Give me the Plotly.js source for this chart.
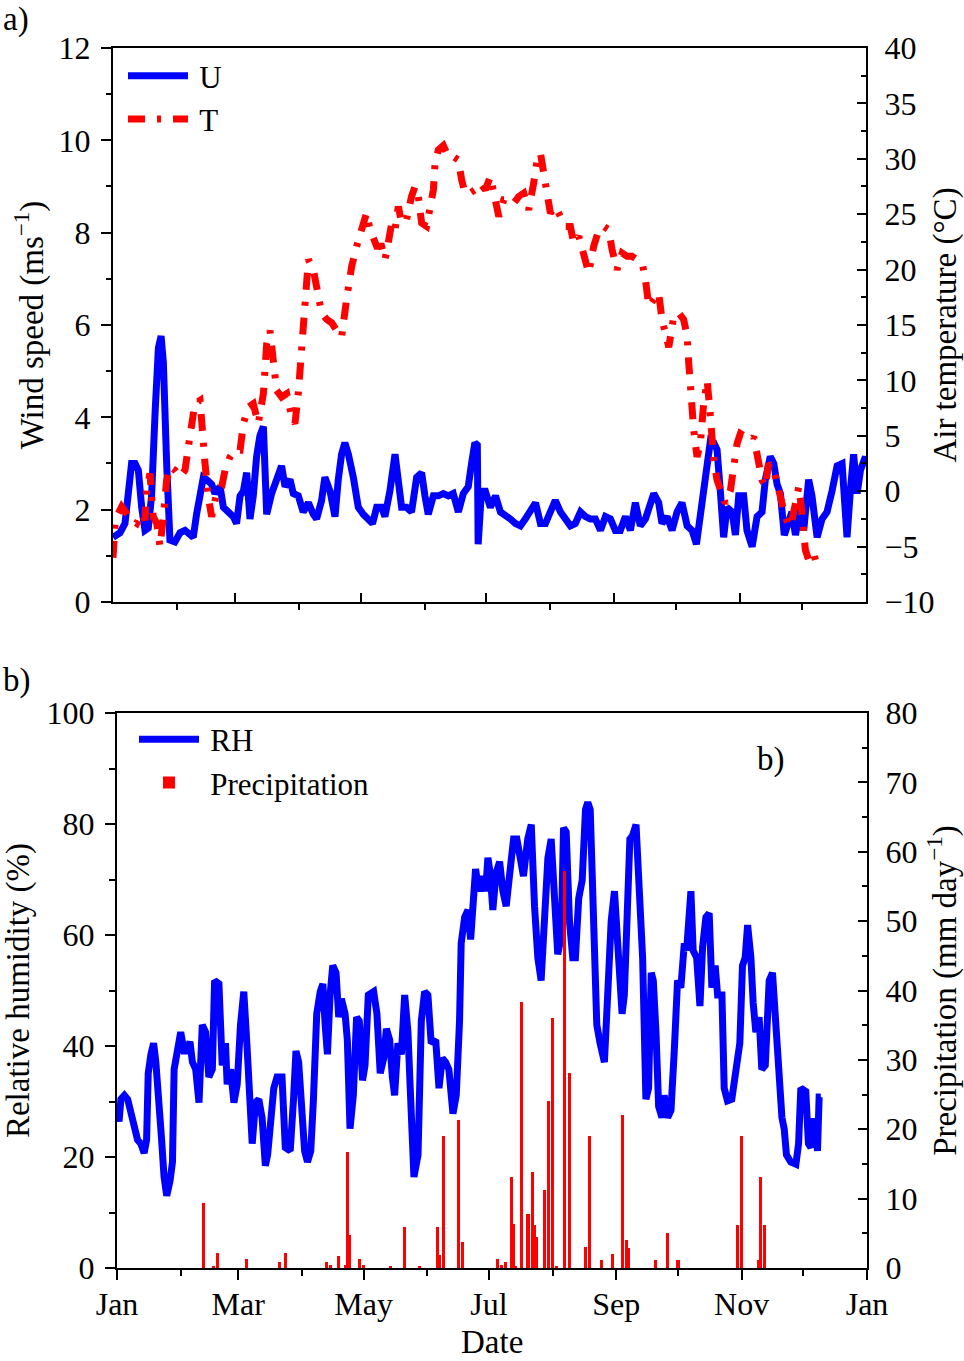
<!DOCTYPE html>
<html>
<head>
<meta charset="utf-8">
<script src="https://cdn.plot.ly/plotly-3.0.1.min.js"></script>
<style>
  html, body { margin: 0; padding: 0; background: #fff; }
  #graph { width: 964px; height: 1361px; }
</style>
</head>
<body>
<div id="graph"></div>
<script>
// day of year on the x axis, month ticks
const monthTicks = [0, 59, 120, 181, 243, 304, 365];
const monthLabels = ['Jan', 'Mar', 'May', 'Jul', 'Sep', 'Nov', 'Jan'];
const minorMonths = [31, 90, 151, 212, 273, 334];

// a) wind speed U (m/s)
const uDay = [
  0, 3.4, 5.8, 7.4, 9.0, 10.7, 12.3, 13.9, 15.5, 17.1,
  18.7, 20.4, 22.0, 23.3, 24.4, 26.0, 27.6, 30.0, 32.5, 34.9,
  37.3, 38.9, 40.5, 42.2, 43.8, 45.4, 47.8, 49.4, 51.9, 53.5,
  55.9, 58.3, 59.9, 61.6, 63.2, 64.8, 66.4, 68.0, 69.6, 71.2,
  72.9, 74.5, 76.9, 79.3, 81.7, 83.4, 85.8, 87.4, 89.8, 92.2,
  94.7, 97.1, 98.7, 101.1, 102.7, 105.2, 107.6, 109.2, 110.8, 112.4,
  114.1, 116.5, 118.9, 121.3, 123.7, 125.8, 127.8, 130.2, 131.8, 134.2,
  136.7, 138.3, 139.9, 142.3, 144.7, 147.2, 149.6, 151.2, 152.8, 155.3,
  157.7, 160.1, 162.5, 164.9, 167.4, 169.8, 172.2, 173.8, 175.4, 176.6,
  177.0, 178.6, 180.5, 182.9, 185.4, 187.8, 190.2, 192.6, 195.1, 197.5,
  199.9, 202.3, 204.8, 207.2, 209.6, 212.0, 214.4, 216.9, 219.3, 221.7,
  224.1, 226.6, 229.0, 231.4, 233.8, 236.3, 238.7, 241.1, 243.5, 245.9,
  248.4, 250.8, 253.2, 255.6, 258.1, 260.5, 262.1, 264.5, 266.1, 268.6,
  271.0, 273.4, 275.8, 278.3, 280.7, 282.8, 284.7, 286.3, 288.0, 289.6,
  291.2, 292.8, 294.4, 296.0, 297.6, 300.1, 301.7, 303.3, 305.7, 307.3,
  309.8, 312.2, 314.6, 316.2, 318.6, 320.3, 321.9, 323.5, 325.4, 327.5,
  329.1, 330.8, 333.2, 334.8, 337.2, 338.8, 341.3, 343.7, 346.1, 348.5,
  351.0, 353.4, 355.0, 355.8, 357.4, 359.0, 360.7, 362.3, 364.7, 365.0
];
const uVal = [
  1.4, 1.5, 1.7, 2.35, 3.0, 3.0, 2.85, 2.05, 1.55, 1.6,
  2.3, 4.1, 5.5, 5.76, 5.2, 3.0, 1.34, 1.3, 1.5, 1.55,
  1.45, 1.4, 1.9, 2.4, 2.7, 2.65, 2.55, 2.35, 2.5, 2.05,
  1.95, 1.85, 1.7, 2.3, 2.4, 2.8, 1.8, 2.3, 3.15, 3.6,
  3.8, 1.9, 2.35, 2.65, 2.95, 2.5, 2.65, 2.35, 2.3, 1.95,
  2.15, 1.9, 1.8, 2.2, 2.7, 2.4, 1.85, 2.65, 3.2, 3.45,
  3.2, 2.7, 2.05, 1.9, 1.8, 1.7, 2.05, 2.05, 1.85, 2.4,
  3.2, 2.7, 2.05, 2.05, 1.95, 2.7, 2.8, 2.3, 1.9, 2.3,
  2.3, 2.35, 2.3, 2.35, 1.95, 2.35, 2.5, 3.0, 3.45, 3.4,
  1.25, 2.4, 2.4, 2.05, 2.3, 1.95, 1.85, 1.8, 1.7, 1.65,
  1.8, 1.95, 2.15, 1.7, 1.7, 1.95, 2.2, 1.95, 1.8, 1.65,
  1.7, 1.95, 1.85, 1.8, 1.8, 1.55, 1.85, 1.8, 1.55, 1.55,
  1.85, 1.55, 2.15, 1.65, 1.8, 2.15, 2.35, 2.15, 1.7, 1.85,
  1.55, 1.95, 2.15, 1.65, 1.55, 1.25, 1.95, 2.4, 3.0, 3.5,
  3.45, 3.3, 2.4, 1.4, 2.05, 1.95, 1.45, 2.3, 2.3, 1.55,
  1.2, 1.85, 1.95, 2.65, 3.15, 3.0, 2.55, 2.35, 1.45, 1.7,
  1.95, 1.45, 2.05, 1.55, 2.65, 2.3, 1.4, 1.8, 1.95, 2.4,
  2.95, 3.0, 2.05, 1.4, 2.4, 3.2, 2.35, 2.85, 3.15, 3.0
];

// a) air temperature T (deg C)
const tDay = [
  0, 1.0, 2.6, 4.2, 6.6, 9.0, 11.5, 13.9, 15.5, 16.3,
  17.9, 19.5, 21.2, 22.8, 24.4, 26.0, 27.6, 30.0, 32.5, 34.9,
  36.5, 38.1, 39.7, 42.2, 43.0, 44.6, 46.2, 47.8, 50.2, 52.7,
  54.3, 56.7, 59.1, 61.6, 63.2, 65.6, 68.0, 70.4, 72.9, 74.5,
  76.1, 77.7, 79.3, 81.7, 84.2, 86.6, 88.2, 89.8, 91.4, 93.1,
  94.7, 97.1, 99.5, 101.1, 103.6, 106.0, 108.4, 110.8, 113.2, 115.7,
  118.1, 120.5, 122.9, 124.6, 126.2, 127.8, 130.2, 131.8, 133.4, 135.1,
  136.7, 138.3, 139.9, 142.3, 144.7, 146.4, 148.0, 149.6, 152.0, 153.6,
  155.3, 156.1, 157.7, 160.1, 162.5, 164.9, 167.4, 169.0, 170.6, 173.0,
  175.4, 177.9, 180.5, 182.9, 184.6, 187.0, 189.4, 191.8, 194.3, 196.7,
  199.1, 201.5, 203.9, 205.6, 207.2, 208.8, 210.4, 212.0, 214.4, 216.9,
  219.3, 221.7, 223.3, 225.8, 228.2, 230.6, 233.0, 235.5, 237.9, 240.3,
  241.9, 244.3, 246.8, 249.2, 251.6, 254.0, 256.5, 258.1, 259.7, 262.1,
  264.5, 266.1, 267.8, 269.4, 271.8, 274.2, 276.6, 278.3, 279.1, 279.9,
  281.5, 283.1, 284.7, 286.3, 288.0, 289.6, 291.2, 292.8, 294.4, 296.8,
  299.3, 300.9, 302.5, 304.1, 306.5, 309.0, 310.6, 313.0, 314.6, 316.2,
  317.8, 320.3, 322.7, 325.1, 327.5, 329.1, 330.8, 332.4, 334.0, 335.6,
  337.2, 339.7, 341.6
];
const tVal = [
  -6.0, -3.0, -2.0, -1.4, -2.0, -2.6, -2.9, -2.0, -2.6, 0.1,
  1.6, -2.3, -2.9, -5.0, -2.3, 1.0, 2.2, 1.9, 1.3, 1.9,
  4.0, 6.4, 7.9, 8.2, 5.5, 2.5, -0.5, -2.3, -0.2, 0.4,
  1.9, 3.1, 3.7, 3.7, 6.1, 7.6, 7.9, 6.1, 8.8, 13.3,
  14.5, 11.5, 9.1, 8.5, 8.8, 6.7, 6.1, 8.8, 13.3, 18.2,
  20.9, 20.0, 17.3, 16.1, 15.5, 15.2, 14.5, 13.9, 17.3, 20.3,
  22.1, 23.9, 25.1, 23.6, 23.0, 22.1, 22.1, 20.9, 22.4, 24.2,
  23.6, 25.7, 24.2, 24.5, 26.6, 27.5, 26.6, 24.2, 23.9, 26.0,
  27.2, 29.6, 30.8, 31.2, 30.2, 30.2, 29.9, 28.1, 26.9, 26.9,
  27.2, 27.8, 27.2, 28.4, 26.6, 24.8, 26.3, 26.3, 26.0, 26.6,
  26.9, 25.4, 27.8, 29.9, 30.5, 28.7, 27.2, 25.1, 25.7, 24.8,
  23.9, 23.9, 22.4, 23.0, 21.5, 19.7, 22.1, 23.6, 23.9, 23.6,
  21.8, 20.0, 21.5, 21.2, 21.2, 20.9, 20.6, 19.1, 16.7, 17.3,
  17.9, 15.5, 14.2, 13.0, 15.8, 16.1, 15.5, 14.0, 11.5, 8.5,
  5.5, 3.1, 4.3, 7.9, 10.0, 6.7, 2.8, 1.0, 0.1, -1.1,
  0.1, 2.8, 4.3, 5.2, 4.9, 4.6, 4.9, 2.5, 1.0, 0.4,
  2.5, 1.9, -0.2, -1.7, -3.2, -2.6, -1.1, 0.4, -2.0, -5.3,
  -6.2, -5.6, -7.1
];

// b) relative humidity (%)
const rhDay = [
  0, 1, 1.9, 3.6, 5.2, 6.8, 8.4, 10.0, 11.6, 13.2,
  14.4, 15.2, 16.5, 17.8, 18.9, 20.5, 21.6, 22.9, 24.2, 25.8,
  27.0, 27.8, 29.4, 31.0, 32.6, 34.2, 35.5, 36.7, 38.3, 39.9,
  41.5, 43.1, 44.7, 46.4, 47.5, 49.6, 51.2, 52.8, 53.6, 55.3,
  56.9, 58.5, 60.1, 61.7, 63.3, 64.6, 65.8, 67.4, 69.0, 70.6,
  72.2, 73.3, 74.6, 76.3, 77.9, 80.3, 81.9, 84.3, 85.9, 87.1,
  88.4, 90.0, 91.3, 92.7, 94.3, 95.6, 97.2, 98.9, 100.2, 101.3,
  102.4, 103.7, 105.0, 106.6, 107.9, 109.2, 111.0, 112.1, 113.4, 115.0,
  116.6, 117.9, 119.5, 120.7, 122.3, 124.9, 126.5, 128.1, 129.8, 131.1,
  132.7, 134.0, 135.1, 136.7, 138.4, 140.0, 141.6, 142.7, 143.7, 144.5,
  146.5, 148.1, 149.7, 151.3, 152.9, 155.1, 156.7, 158.3, 159.9, 161.5,
  163.5, 165.1, 166.7, 167.5, 169.2, 170.8, 172.1, 173.2, 174.5, 176.1,
  177.7, 179.4, 180.5, 181.6, 182.9, 184.5, 186.2, 187.8, 189.4, 191.0,
  193.0, 194.6, 195.9, 197.8, 199.9, 201.6, 203.2, 204.8, 206.4, 208.1,
  209.7, 211.3, 212.9, 214.5, 216.2, 217.3, 218.6, 220.2, 221.8, 223.1,
  224.7, 226.4, 228.0, 229.1, 230.3, 231.6, 233.5, 235.1, 237.2, 238.8,
  240.5, 242.1, 244.5, 245.8, 246.9, 248.5, 249.6, 250.9, 252.6, 254.2,
  255.8, 257.4, 258.7, 260.0, 261.0, 262.3, 263.6, 265.2, 266.3, 268.0,
  269.6, 271.2, 272.8, 274.4, 276.1, 277.2, 278.2, 279.3, 280.4, 282.1,
  283.7, 285.0, 286.6, 288.2, 289.5, 291.1, 292.3, 294.4, 295.5, 297.1,
  299.2, 301.2, 303.1, 304.4, 305.7, 306.9, 308.5, 309.6, 310.9, 312.5,
  313.8, 315.5, 317.4, 319.0, 320.6, 322.3, 323.6, 324.7, 325.8, 327.9,
  330.4, 331.7, 332.8, 335.2, 336.5, 337.7, 338.8, 339.8, 340.9, 341.7, 342.5
];
const rhVal = [
  29.1, 26.4, 30.4, 31.1, 30.4, 27.8, 25.8, 23.1, 22.4, 20.7,
  23.1, 35.1, 38.5, 40.5, 37.1, 30.4, 23.7, 16.4, 13.0, 15.7,
  19.1, 35.8, 38.5, 42.5, 39.1, 39.1, 40.8, 37.1, 35.8, 29.8,
  43.8, 42.5, 34.4, 35.8, 51.8, 51.2, 36.5, 40.5, 33.1, 35.8,
  29.8, 33.1, 43.8, 49.8, 39.8, 27.8, 22.4, 29.8, 30.4, 27.1,
  18.4, 20.4, 26.4, 32.4, 34.4, 34.4, 21.7, 21.1, 30.4, 39.1,
  37.1, 29.1, 21.1, 19.1, 21.1, 30.4, 45.8, 49.8, 51.2, 43.8,
  38.5, 49.2, 54.5, 53.2, 45.2, 48.5, 45.8, 41.1, 25.1, 31.1,
  45.2, 44.5, 33.8, 36.5, 49.2, 49.8, 45.8, 35.1, 37.8, 43.1,
  41.1, 34.4, 31.1, 40.5, 38.5, 49.2, 42.5, 32.4, 19.7, 16.4,
  20.4, 44.5, 49.8, 49.2, 40.5, 41.1, 32.4, 37.8, 37.1, 35.8,
  27.8, 31.1, 44.5, 58.5, 63.2, 64.5, 59.2, 63.9, 71.9, 67.9,
  70.6, 67.9, 73.9, 71.2, 64.5, 71.2, 73.2, 67.9, 65.2, 70.6,
  77.3, 77.3, 73.9, 70.6, 77.3, 79.9, 65.2, 55.9, 51.8, 65.2,
  73.9, 77.3, 65.2, 56.5, 59.9, 79.3, 78.6, 62.5, 55.9, 55.9,
  66.6, 69.9, 82.6, 83.9, 82.6, 65.9, 43.8, 40.5, 37.1, 49.2,
  62.5, 67.9, 55.9, 45.8, 49.2, 65.9, 77.3, 77.9, 79.9, 67.9,
  55.9, 30.4, 32.4, 53.2, 51.8, 42.5, 29.1, 27.1, 31.1, 27.1,
  28.4, 39.1, 51.8, 50.5, 58.5, 57.2, 65.2, 67.9, 57.2, 55.9,
  47.2, 57.9, 63.2, 63.9, 50.5, 54.5, 49.2, 49.2, 32.4, 30.1,
  30.4, 36.5, 40.5, 54.5, 55.9, 61.8, 55.9, 47.8, 42.5, 45.2,
  35.8, 36.5, 51.8, 53.2, 43.8, 38.5, 27.1, 25.1, 20.4, 19.1,
  18.7, 22.4, 32.4, 31.8, 22.4, 21.7, 26.4, 26.4, 21.1, 30.8, 30.8
];

// b) daily precipitation (mm/day)
const pDay = [
  42, 47, 49, 63, 79, 82, 102, 104, 108, 111,
  112, 113, 118, 120, 133, 140, 147, 156, 157, 159,
  166, 168, 185, 187, 189, 192, 193, 194, 197, 200,
  202, 203, 204, 208, 210, 212, 214, 218, 220, 228,
  230, 236, 241, 246, 248, 249, 262, 268, 273, 302,
  304, 312, 313, 315
];
const pVal = [
  9.4, 0.3, 2.1, 1.3, 0.8, 2.2, 0.8, 0.4, 1.8, 0.5,
  16.7, 4.8, 1.3, 0.4, 0.3, 5.9, 0.3, 5.9, 1.9, 19.0,
  21.4, 3.7, 1.3, 0.5, 0.8, 13.1, 6.4, 0.3, 38.3, 7.8,
  13.9, 6.2, 4.5, 11.2, 24.1, 36.1, 0.3, 57.2, 28.1, 3.0,
  19.0, 1.1, 2.0, 22.1, 4.0, 2.9, 1.1, 5.1, 1.1, 6.2,
  19.0, 1.1, 13.1, 6.2
];

const FONT = 'Liberation Serif, Times New Roman, serif';
const BLUE = '#0000ff';
const RED = '#ff0000';

const axisBase = {
    showline: true,
    linecolor: '#000',
    linewidth: 2,
    showgrid: false,
    zeroline: false,
    tickcolor: '#000',
    tickwidth: 2,
    tickfont: { family: FONT, size: 32, color: '#000' },
    automargin: true
};

const titleFont = { family: FONT, size: 33, color: '#000' };
const legendFont = { family: FONT, size: 31, color: '#000' };

var traces = [
    {
        type: 'scatter', mode: 'lines', name: '\u2009U',
        x: uDay, y: uVal, xaxis: 'x', yaxis: 'y',
        line: { color: BLUE, width: 7 },
        legend: 'legend'
    },
    {
        type: 'scatter', mode: 'lines', name: '\u2009T',
        x: tDay, y: tVal, xaxis: 'x', yaxis: 'y2',
        line: { color: RED, width: 7, dash: '17px,12px,4px,12px' },
        legend: 'legend'
    },
    {
        type: 'scatter', mode: 'lines', name: '\u2009RH',
        x: rhDay, y: rhVal, xaxis: 'x2', yaxis: 'y3',
        line: { color: BLUE, width: 7 },
        legend: 'legend2'
    },
    {
        type: 'bar', name: '\u2009Precipitation',
        x: pDay, y: pVal, xaxis: 'x2', yaxis: 'y4',
        width: 1.5,
        marker: { color: RED, line: { width: 0 } },
        legend: 'legend2'
    }
];

// plot area: x 100..868, y 40..1268
var layout = {
    width: 964,
    height: 1361,
    margin: { l: 100, r: 96, t: 40, b: 93 },
    paper_bgcolor: '#fff',
    plot_bgcolor: '#fff',
    font: { family: FONT, size: 32, color: '#000' },
    bargap: 0,

    // a) wind speed and temperature
    xaxis: Object.assign({}, axisBase, {
        domain: [0.01693, 0.9974], anchor: 'y',
        range: [0, 365],
        tickmode: 'array', tickvals: monthTicks,
        showticklabels: false,
        ticks: 'inside', ticklen: 9,
        minor: { tickmode: 'array', tickvals: minorMonths, ticks: 'outside', ticklen: 6, tickcolor: '#000', tickwidth: 2 },
        mirror: true,
        automargin: false
    }),
    yaxis: Object.assign({}, axisBase, {
        domain: [0.54235, 0.99349], anchor: 'x',
        range: [0, 12],
        tickmode: 'linear', tick0: 0, dtick: 2,
        ticks: 'outside', ticklen: 10, ticklabelstandoff: 4,
        minor: { tickmode: 'linear', tick0: 0, dtick: 1, ticks: 'outside', ticklen: 5, tickcolor: '#000', tickwidth: 2 },
        title: { text: 'Wind speed (ms<sup>−1</sup>)', font: titleFont, standoff: 5 }
    }),
    yaxis2: Object.assign({}, axisBase, {
        overlaying: 'y', side: 'right', anchor: 'x',
        range: [-10, 40],
        tickmode: 'linear', tick0: -10, dtick: 5,
        ticks: 'inside', ticklen: 9, ticklabelstandoff: 10,
        minor: { tickmode: 'linear', tick0: -10, dtick: 2.5, ticks: 'inside', ticklen: 5, tickcolor: '#000', tickwidth: 2 },
        title: { text: 'Air temperature (°C)', font: titleFont },
        automargin: false
    }),

    // b) relative humidity and precipitation
    xaxis2: Object.assign({}, axisBase, {
        domain: [0.02214, 0.9987], anchor: 'y3',
        range: [0, 365],
        tickmode: 'array', tickvals: monthTicks, ticktext: monthLabels,
        ticks: 'outside', ticklen: 10, ticklabelstandoff: -3,
        minor: { tickmode: 'array', tickvals: minorMonths, ticks: 'outside', ticklen: 6, tickcolor: '#000', tickwidth: 2 },
        mirror: true,
        automargin: false
    }),
    yaxis3: Object.assign({}, axisBase, {
        domain: [0, 0.45195], anchor: 'x2',
        range: [0, 100],
        tickmode: 'linear', tick0: 0, dtick: 20,
        ticks: 'outside', ticklen: 10, ticklabelstandoff: 4,
        minor: { tickmode: 'linear', tick0: 0, dtick: 10, ticks: 'outside', ticklen: 6, tickcolor: '#000', tickwidth: 2 },
        title: { text: 'Relative humidity (%)', font: titleFont, standoff: 12 }
    }),
    yaxis4: Object.assign({}, axisBase, {
        overlaying: 'y3', side: 'right', anchor: 'x2',
        range: [0, 80],
        tickmode: 'linear', tick0: 0, dtick: 10,
        ticks: 'inside', ticklen: 9, ticklabelstandoff: 10,
        minor: { tickmode: 'linear', tick0: 0, dtick: 5, ticks: 'inside', ticklen: 5, tickcolor: '#000', tickwidth: 2 },
        title: { text: 'Precipitation (mm day<sup>−1</sup>)', font: titleFont },
        automargin: false
    }),

    legend: {
        x: 0.02995, y: 0.99267, xanchor: 'left', yanchor: 'top',
        bgcolor: 'rgba(0,0,0,0)', borderwidth: 0,
        font: legendFont,
        itemwidth: 60, tracegroupgap: 0
    },
    legend2: {
        x: 0.04427, y: 0.45236, xanchor: 'left', yanchor: 'top',
        bgcolor: 'rgba(0,0,0,0)', borderwidth: 0,
        font: legendFont,
        itemwidth: 60, tracegroupgap: 0
    },

    annotations: [
        { text: 'a)', xref: 'paper', yref: 'paper', x: -0.1289, y: 1.01629, xanchor: 'left', yanchor: 'middle', showarrow: false, font: titleFont },
        { text: 'b)', xref: 'paper', yref: 'paper', x: -0.1289, y: 0.49511, xanchor: 'left', yanchor: 'top', showarrow: false, font: titleFont },
        { text: 'b)', xref: 'paper', yref: 'paper', x: 0.8529, y: 0.43078, xanchor: 'left', yanchor: 'top', showarrow: false, font: titleFont },
        { text: 'Date', xref: 'paper', yref: 'paper', x: 0.5104, y: -0.06026, xanchor: 'center', yanchor: 'middle', showarrow: false, font: titleFont }
    ]
};

Plotly.newPlot('graph', traces, layout, { staticPlot: true, displayModeBar: false });
</script>
</body>
</html>
